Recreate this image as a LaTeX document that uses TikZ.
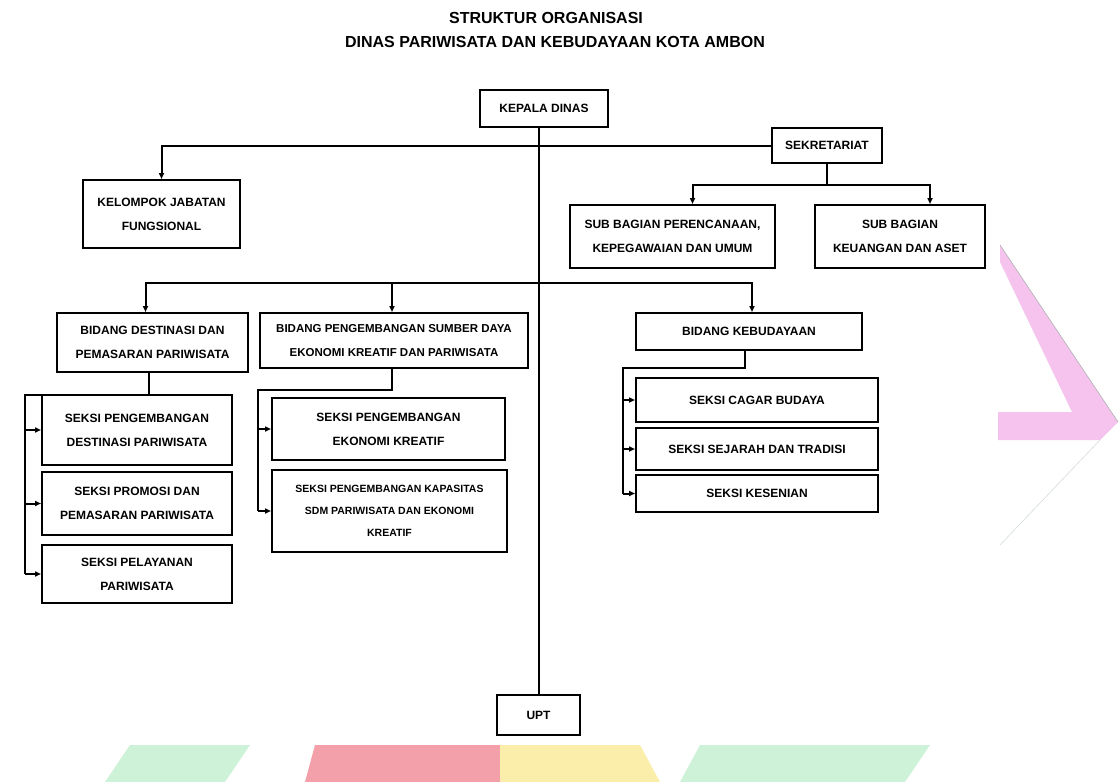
\documentclass[tikz,border=0pt]{standalone}
\usepackage{fontspec}
\setmainfont{Liberation Sans}
\usetikzlibrary{arrows.meta}
\definecolor{pinkdeco}{RGB}{245,195,238}
\definecolor{greendeco}{RGB}{205,242,215}
\definecolor{reddeco}{RGB}{244,160,170}
\definecolor{yellowdeco}{RGB}{250,238,170}
\begin{document}
\begin{tikzpicture}[x=1pt,y=-1pt,
  box/.style={draw,line width=2pt,align=center,inner sep=2pt,
    font=\bfseries\fontsize{12}{24}\selectfont},
  conn/.style={line width=2pt},
  arr/.style={line width=2pt,-{Triangle[length=6pt,width=5pt]}}]
\useasboundingbox (0,0) rectangle (1120,782);
\fill[white] (0,0) rectangle (1120,782);
% decorations
\fill[pinkdeco] (1000,245) -- (1118,422) -- (1100,440) -- (998,440) -- (998,412) -- (1072,412) -- (1000,262) -- cycle;
\draw[gray!60,line width=0.6pt] (1000,245) -- (1118,422);
\draw[green!10!gray!30,line width=0.6pt] (1100,440) -- (1000,545);
\fill[greendeco] (130,745) -- (250,745) -- (225,782) -- (105,782) -- cycle;
\fill[reddeco] (315,745) -- (500,745) -- (500,782) -- (305,782) -- cycle;
\fill[yellowdeco] (500,745) -- (640,745) -- (660,782) -- (500,782) -- cycle;
\fill[greendeco] (700,745) -- (930,745) -- (905,782) -- (680,782) -- cycle;
% title
\node[font=\bfseries\fontsize{16}{18}\selectfont] (t1) at (546,18) {STRUKTUR ORGANISASI};
\node[font=\bfseries\fontsize{16}{18}\selectfont] (t2) at (555,42) {DINAS PARIWISATA DAN KEBUDAYAAN KOTA AMBON};
% nodes
\node[box,line width=2.4pt,minimum width=128,minimum height=37] (kd) at (544,108.5) {KEPALA DINAS};
\node[box,minimum width=110,minimum height=35] (sek) at (827,145.5) {SEKRETARIAT};
\node[box,minimum width=157,minimum height=68] (kjf) at (161.5,214) {KELOMPOK JABATAN\\FUNGSIONAL};
\node[box,minimum width=205,minimum height=63] (sb1) at (672.5,236.5) {SUB BAGIAN PERENCANAAN,\\KEPEGAWAIAN DAN UMUM};
\node[box,minimum width=170,minimum height=63] (sb2) at (900,236.5) {SUB BAGIAN\\KEUANGAN DAN ASET};
\node[box,minimum width=191,minimum height=59] (bd1) at (152.5,342.5) {BIDANG DESTINASI DAN\\PEMASARAN PARIWISATA};
\node[box,minimum width=268,minimum height=55,font=\bfseries\fontsize{11.5}{24}\selectfont] (bd2) at (394,340.5) {BIDANG PENGEMBANGAN SUMBER DAYA\\EKONOMI KREATIF DAN PARIWISATA};
\node[box,minimum width=226,minimum height=37] (bd3) at (749,331.5) {BIDANG KEBUDAYAAN};
\node[box,minimum width=190,minimum height=70] (s11) at (137,430) {SEKSI PENGEMBANGAN\\DESTINASI PARIWISATA};
\node[box,minimum width=190,minimum height=63] (s12) at (137,503.5) {SEKSI PROMOSI DAN\\PEMASARAN PARIWISATA};
\node[box,minimum width=190,minimum height=58] (s13) at (137,574) {SEKSI PELAYANAN\\PARIWISATA};
\node[box,minimum width=233,minimum height=62] (s21) at (388.5,429) {SEKSI PENGEMBANGAN\\EKONOMI KREATIF};
\node[box,minimum width=235,minimum height=82,font=\bfseries\fontsize{10.5}{22}\selectfont] (s22) at (389.5,511) {SEKSI PENGEMBANGAN KAPASITAS\\SDM PARIWISATA DAN EKONOMI\\KREATIF};
\node[box,minimum width=242,minimum height=44] (s31) at (757,400) {SEKSI CAGAR BUDAYA};
\node[box,minimum width=242,minimum height=42] (s32) at (757,449) {SEKSI SEJARAH DAN TRADISI};
\node[box,minimum width=242,minimum height=37] (s33) at (757,493.5) {SEKSI KESENIAN};
\node[box,minimum width=83,minimum height=40] (upt) at (538.5,715) {UPT};
% main line
\draw[conn] (upt.north |- kd.south) -- (upt.north);
% sekretariat
\draw[arr] (sek.west) -| (kjf.north);
\coordinate (jS) at (827,185);
\draw[conn] (sek.south) -- (jS);
\draw[arr] (jS) -| ([xshift=20pt]sb1.north);
\draw[arr] (jS) -| ([xshift=30pt]sb2.north);
% bidang
\coordinate (jB) at (538.5,283);
\draw[arr] (jB) -| ([xshift=-7pt]bd1.north);
\draw[arr] (jB) -| ([xshift=-2pt]bd2.north);
\draw[arr] (jB) -| ([xshift=3pt]bd3.north);
% seksi bidang 1
\coordinate (l1) at (25,395);
\draw[conn] ([xshift=-4pt]bd1.south) |- (l1) -- (l1 |- s13.west);
\draw[arr] (l1 |- s11.west) -- (s11.west);
\draw[arr] (l1 |- s12.west) -- (s12.west);
\draw[arr] (l1 |- s13.west) -- (s13.west);
% seksi bidang 2
\coordinate (l2) at (258,390);
\draw[conn] ([xshift=-2pt]bd2.south) |- (l2) -- (l2 |- s22.west);
\draw[arr] (l2 |- s21.west) -- (s21.west);
\draw[arr] (l2 |- s22.west) -- (s22.west);
% seksi bidang 3
\coordinate (l3) at (623,368);
\draw[conn] ([xshift=-4pt]bd3.south) |- (l3) -- (l3 |- s33.west);
\draw[arr] (l3 |- s31.west) -- (s31.west);
\draw[arr] (l3 |- s32.west) -- (s32.west);
\draw[arr] (l3 |- s33.west) -- (s33.west);
\end{tikzpicture}
\end{document}
